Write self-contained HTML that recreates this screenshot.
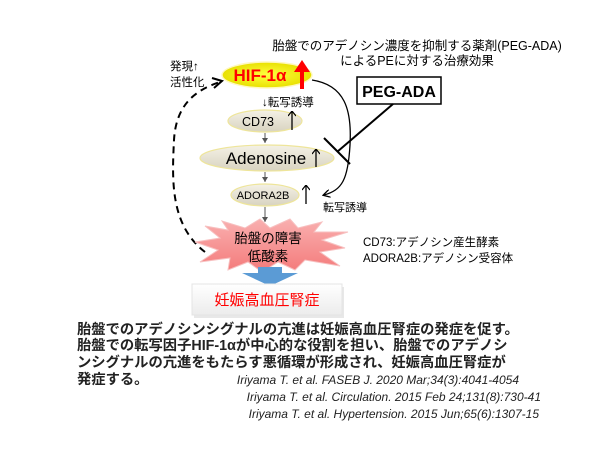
<!DOCTYPE html>
<html><head><meta charset="utf-8"><style>
html,body{margin:0;padding:0;background:#fff;}
svg{display:block;font-family:"Liberation Sans","Noto Sans CJK JP",sans-serif;}
</style></head><body>
<svg width="600" height="450" viewBox="0 0 600 450" xmlns="http://www.w3.org/2000/svg">
<defs>
<radialGradient id="gy" cx="50%" cy="50%" r="50%"><stop offset="0" stop-color="#ffff40"/><stop offset="1" stop-color="#e8e000"/></radialGradient>
<linearGradient id="gg" x1="0" y1="0" x2="0" y2="1"><stop offset="0" stop-color="#f4f1e6"/><stop offset="1" stop-color="#d8d3c0"/></linearGradient>
<linearGradient id="gs" x1="0" y1="0" x2="0" y2="1"><stop offset="0" stop-color="#f9b0b0"/><stop offset="1" stop-color="#f47a7a"/></linearGradient>
<linearGradient id="gb" x1="0" y1="0" x2="0" y2="1"><stop offset="0" stop-color="#ffffff"/><stop offset="1" stop-color="#ececec"/></linearGradient>
<marker id="ah" markerWidth="8" markerHeight="8" refX="6" refY="4" orient="auto" markerUnits="userSpaceOnUse"><path d="M0,0 L7,4 L0,8" fill="none" stroke="#000" stroke-width="1.3"/></marker>
<marker id="as" markerWidth="6" markerHeight="6" refX="5" refY="3" orient="auto" markerUnits="userSpaceOnUse"><path d="M0,0 L5,3 L0,6 Z" fill="#555"/></marker>
<marker id="up" markerWidth="8" markerHeight="8" refX="4" refY="1" orient="0" markerUnits="userSpaceOnUse"><path d="M0,5 L4,0 L8,5" fill="none" stroke="#000" stroke-width="1.2"/></marker>
</defs>

<text x="417" y="50" font-size="12.5" text-anchor="middle">胎盤でのアデノシン濃度を抑制する薬剤(PEG-ADA)</text>
<text x="417" y="65" font-size="12.5" text-anchor="middle">によるPEに対する治療効果</text>

<text x="170" y="70" font-size="11.5">発現↑</text>
<text x="170" y="86" font-size="11.5">活性化</text>

<path d="M205,252 C170,225 172,180 174,140 C176,105 195,90 220,82" fill="none" stroke="#000" stroke-width="2" stroke-dasharray="7,5"/>
<path d="M212,78 L222,81 L214,88" fill="none" stroke="#000" stroke-width="2"/>

<ellipse cx="267" cy="75" rx="45" ry="13" fill="url(#gy)" stroke="#fff8c0" stroke-width="1.5"/>
<text x="260" y="81" font-size="17" font-weight="bold" fill="#f00" text-anchor="middle">HIF-1α</text>
<line x1="302" y1="89" x2="302" y2="70" stroke="#f00" stroke-width="4"/>
<path d="M294,72 L302,60 L310,72 Z" fill="#f00"/>

<path d="M312,80 C345,85 352,110 350,145 C348,180 342,190 324,195" fill="none" stroke="#000" stroke-width="1.3" marker-end="url(#ah)"/>

<text x="262" y="106" font-size="11.5">↓転写誘導</text>

<ellipse cx="265" cy="121" rx="37" ry="11" fill="url(#gg)" stroke="#eee59a" stroke-width="1.2"/>
<text x="258" y="126" font-size="12.5" text-anchor="middle">CD73</text>
<line x1="292" y1="130" x2="292" y2="112" stroke="#000" stroke-width="1.3" marker-end="url(#up)"/>
<line x1="265" y1="133" x2="265" y2="143" stroke="#555" stroke-width="1" marker-end="url(#as)"/>

<ellipse cx="267" cy="158" rx="67" ry="13" fill="url(#gg)" stroke="#eee59a" stroke-width="1.2"/>
<text x="266" y="164" font-size="17" text-anchor="middle">Adenosine</text>
<line x1="316" y1="167" x2="316" y2="150" stroke="#000" stroke-width="1.3" marker-end="url(#up)"/>
<line x1="265" y1="172" x2="265" y2="182" stroke="#555" stroke-width="1" marker-end="url(#as)"/>

<ellipse cx="265" cy="195" rx="34" ry="11" fill="url(#gg)" stroke="#eee59a" stroke-width="1.2"/>
<text x="263" y="199" font-size="11" text-anchor="middle">ADORA2B</text>
<line x1="306" y1="204" x2="306" y2="186" stroke="#000" stroke-width="1.3" marker-end="url(#up)"/>
<line x1="265" y1="207" x2="265" y2="222" stroke="#555" stroke-width="1" marker-end="url(#as)"/>
<text x="323" y="211" font-size="11">転写誘導</text>

<rect x="357" y="77" width="84" height="27" fill="#fff" stroke="#000" stroke-width="1.5"/>
<text x="399" y="97" font-size="16" font-weight="bold" text-anchor="middle">PEG-ADA</text>
<line x1="393" y1="104" x2="337" y2="152" stroke="#000" stroke-width="2"/>
<line x1="324" y1="138" x2="350" y2="164" stroke="#000" stroke-width="2"/>

<path d="M205,226 L228,230 L222,221 L245,228 L260,219 L270,228 L290,219 L298,228 L322,222 L314,232 L348,232 L322,240 L345,248 L320,252 L340,266 L305,260 L295,270 L278,262 L262,272 L248,262 L228,270 L230,258 L200,262 L218,250 L195,242 L220,238 Z" fill="url(#gs)" stroke="#f7c0c0" stroke-width="1"/>
<text x="268" y="243" font-size="13.5" text-anchor="middle">胎盤の障害</text>
<text x="268" y="261" font-size="13.5" text-anchor="middle">低酸素</text>

<text x="363" y="246" font-size="11.5">CD73:アデノシン産生酵素</text>
<text x="363" y="262" font-size="11.5">ADORA2B:アデノシン受容体</text>

<path d="M258,267 L282,267 L282,273 L298,273 L270,286 L242,273 L258,273 Z" fill="#5b9bd5"/>

<rect x="194" y="287" width="150" height="31" fill="#d9d9d9" opacity="0.6"/>
<rect x="192" y="284" width="150" height="31" fill="url(#gb)" stroke="#e4e4e4"/>
<text x="267" y="305" font-size="15" fill="#f00" text-anchor="middle">妊娠高血圧腎症</text>

<g font-size="14.3" font-weight="bold" fill="#222">
<text x="77" y="334">胎盤でのアデノシンシグナルの亢進は妊娠高血圧腎症の発症を促す。</text>
<text x="77" y="350">胎盤での転写因子HIF-1αが中心的な役割を担い、胎盤でのアデノシ</text>
<text x="77" y="367">ンシグナルの亢進をもたらす悪循環が形成され、妊娠高血圧腎症が</text>
<text x="77" y="384">発症する。</text>
</g>
<g font-size="12" font-style="italic" fill="#222" text-anchor="end">
<text x="519" y="384">Iriyama T. et al. FASEB J. 2020 Mar;34(3):4041-4054</text>
<text x="541" y="401">Iriyama T. et al. Circulation. 2015 Feb 24;131(8):730-41</text>
<text x="539" y="418">Iriyama T. et al. Hypertension. 2015 Jun;65(6):1307-15</text>
</g>
</svg>
</body></html>
